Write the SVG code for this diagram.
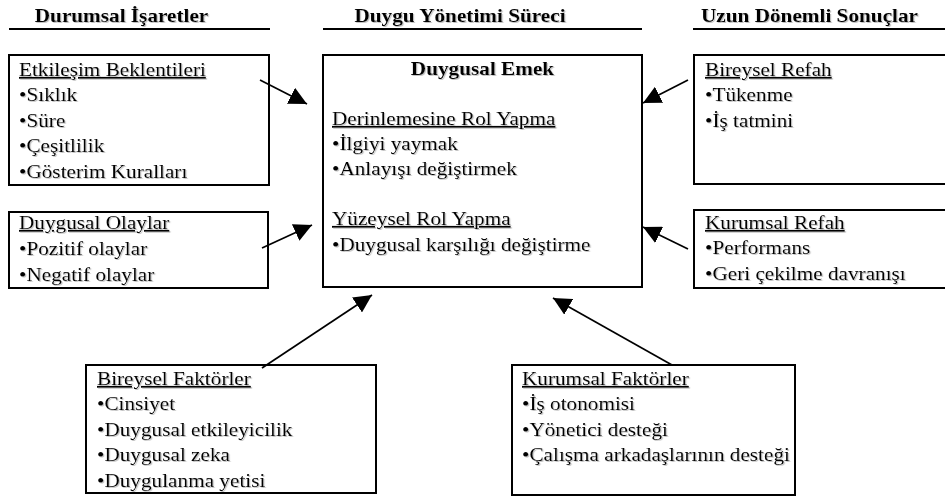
<svg xmlns="http://www.w3.org/2000/svg" width="945" height="499" viewBox="0 0 945 499">
<style>
  text { font-family: "Liberation Serif", "Times New Roman", serif; font-size: 18px; fill: #000; filter: url(#sh); }
  .h { font-weight: bold; text-anchor: middle; }
  .b { font-weight: bold; text-anchor: middle; }
  .u { text-decoration: underline; }
  .box { fill: #fff; stroke: #000; stroke-width: 2; }
  .rule { stroke: #000; stroke-width: 2; }
  .conn { stroke: #000; stroke-width: 1.7; fill: none; marker-end: url(#ah); }
</style>
<defs>
  <filter id="sh" x="-5%" y="-20%" width="110%" height="150%">
    <feDropShadow dx="1" dy="1" stdDeviation="0.3" flood-color="#9a9a9a" flood-opacity="0.6"/>
  </filter>
  <marker id="ah" markerUnits="userSpaceOnUse" markerWidth="20" markerHeight="18" refX="18" refY="9" orient="auto">
    <path d="M0,0 L18,9 L0,18 Z" fill="#000"/>
  </marker>
</defs>
<rect width="945" height="499" fill="#fff"/>

<g id="headers">
  <text class="h" transform="translate(121.5,22) scale(1.18,1)">Durumsal İşaretler</text>
  <line class="rule" x1="9" y1="29" x2="270" y2="29"/>
  <text class="h" transform="translate(460,22) scale(1.18,1)">Duygu Yönetimi Süreci</text>
  <line class="rule" x1="323" y1="29" x2="642" y2="29"/>
  <text class="h" transform="translate(809.5,22) scale(1.18,1)">Uzun Dönemli Sonuçlar</text>
  <line class="rule" x1="693" y1="29" x2="945" y2="29"/>
</g>

<g id="etkilesim">
  <rect class="box" x="9" y="55" width="260" height="130"/>
  <text class="u" transform="translate(19,76) scale(1.18,1)">Etkileşim Beklentileri</text>
  <text transform="translate(19,101) scale(1.18,1)">•Sıklık</text>
  <text transform="translate(19,127) scale(1.18,1)">•Süre</text>
  <text transform="translate(19,152) scale(1.18,1)">•Çeşitlilik</text>
  <text transform="translate(19,178) scale(1.18,1)">•Gösterim Kuralları</text>
</g>

<g id="duygusal-olaylar">
  <rect class="box" x="9" y="212" width="259" height="76"/>
  <text class="u" transform="translate(19,229) scale(1.18,1)">Duygusal Olaylar</text>
  <text transform="translate(19,255) scale(1.18,1)">•Pozitif olaylar</text>
  <text transform="translate(19,281) scale(1.18,1)">•Negatif olaylar</text>
</g>

<g id="duygusal-emek">
  <rect class="box" x="323" y="55" width="319" height="232"/>
  <text class="b" transform="translate(482.5,75) scale(1.18,1)">Duygusal Emek</text>
  <text class="u" transform="translate(332,125) scale(1.18,1)">Derinlemesine Rol Yapma</text>
  <text transform="translate(332,150) scale(1.18,1)">•İlgiyi yaymak</text>
  <text transform="translate(332,175) scale(1.18,1)">•Anlayışı değiştirmek</text>
  <text class="u" transform="translate(332,225) scale(1.18,1)">Yüzeysel Rol Yapma</text>
  <text transform="translate(332,251) scale(1.18,1)">•Duygusal karşılığı değiştirme</text>
</g>

<g id="bireysel-refah">
  <rect class="box" x="694" y="55" width="253" height="129"/>
  <text class="u" transform="translate(705,76) scale(1.18,1)">Bireysel Refah</text>
  <text transform="translate(705,101) scale(1.18,1)">•Tükenme</text>
  <text transform="translate(705,127) scale(1.18,1)">•İş tatmini</text>
</g>

<g id="kurumsal-refah">
  <rect class="box" x="694" y="210" width="253" height="78"/>
  <text class="u" transform="translate(705,229) scale(1.18,1)">Kurumsal Refah</text>
  <text transform="translate(705,254) scale(1.18,1)">•Performans</text>
  <text transform="translate(705,280) scale(1.18,1)">•Geri çekilme davranışı</text>
</g>

<g id="bireysel-faktorler">
  <rect class="box" x="86" y="365" width="290" height="128"/>
  <text class="u" transform="translate(97,385) scale(1.18,1)">Bireysel Faktörler</text>
  <text transform="translate(97,410) scale(1.18,1)">•Cinsiyet</text>
  <text transform="translate(97,436) scale(1.18,1)">•Duygusal etkileyicilik</text>
  <text transform="translate(97,461) scale(1.18,1)">•Duygusal zeka</text>
  <text transform="translate(97,487) scale(1.18,1)">•Duygulanma yetisi</text>
</g>

<g id="kurumsal-faktorler">
  <rect class="box" x="512" y="365" width="283" height="130"/>
  <text class="u" transform="translate(522,385) scale(1.18,1)">Kurumsal Faktörler</text>
  <text transform="translate(522,410) scale(1.18,1)">•İş otonomisi</text>
  <text transform="translate(522,436) scale(1.18,1)">•Yönetici desteği</text>
  <text transform="translate(522,461) scale(1.18,1)">•Çalışma arkadaşlarının desteği</text>
</g>

<g id="connectors">
  <line class="conn" x1="260" y1="80" x2="307" y2="104"/>
  <line class="conn" x1="262" y1="248" x2="312" y2="225"/>
  <line class="conn" x1="688" y1="80" x2="643" y2="103"/>
  <line class="conn" x1="688" y1="249" x2="643" y2="227"/>
  <line class="conn" x1="262" y1="368" x2="372" y2="295"/>
  <line class="conn" x1="672" y1="365" x2="553" y2="298"/>
</g>
</svg>
